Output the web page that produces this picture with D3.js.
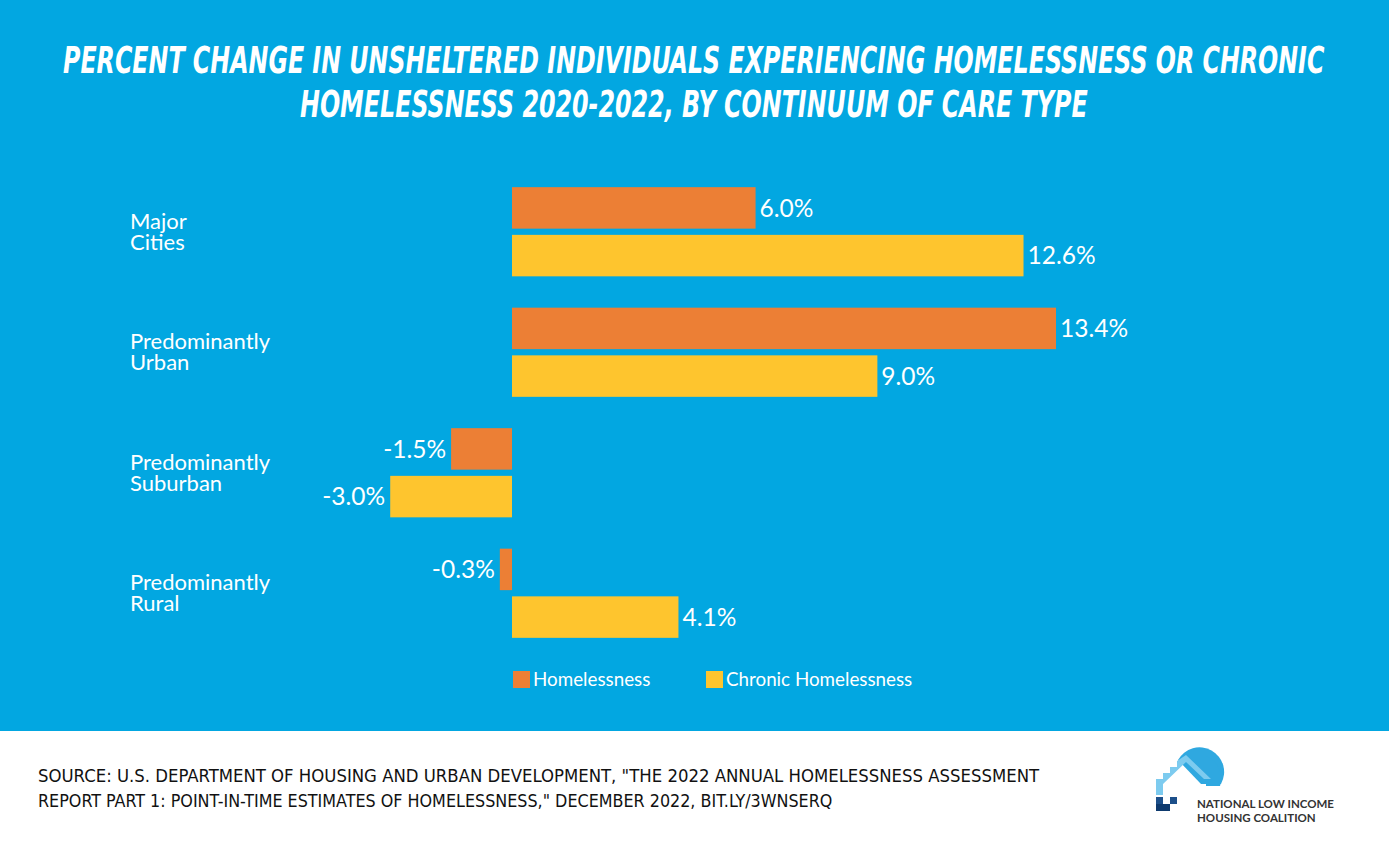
<!DOCTYPE html>
<html>
<head>
<meta charset="utf-8">
<script src="https://cdn.jsdelivr.net/npm/d3@7"></script>
<style>
  html, body { margin: 0; padding: 0; background: #ffffff; }
  svg { display: block; }
</style>
</head>
<body>
<svg id="chart" width="1389" height="854"></svg>
<script>
// ---- data ----
const categories = [["Major", "Cities"], ["Predominantly", "Urban"], ["Predominantly", "Suburban"], ["Predominantly", "Rural"]];
const categoryKeys = ["Major Cities", "Predominantly Urban", "Predominantly Suburban", "Predominantly Rural"];
const seriesNames = ["Homelessness", "Chronic Homelessness"];
const homelessness = [6.0, 13.4, -1.5, -0.3];
const chronicHomelessness = [12.6, 9.0, -3.0, 4.1];
const titleLines = ["PERCENT CHANGE IN UNSHELTERED INDIVIDUALS EXPERIENCING HOMELESSNESS OR CHRONIC",
                    "HOMELESSNESS 2020-2022, BY CONTINUUM OF CARE TYPE"];
const sourceLines = ["SOURCE: U.S. DEPARTMENT OF HOUSING AND URBAN DEVELOPMENT, \"THE 2022 ANNUAL HOMELESSNESS ASSESSMENT",
                     "REPORT PART 1: POINT-IN-TIME ESTIMATES OF HOMELESSNESS,\" DECEMBER 2022, BIT.LY/3WNSERQ"];
const logoLines = ["NATIONAL LOW INCOME", "HOUSING COALITION"];

const colors = { "Homelessness": "#EC7F35", "Chronic Homelessness": "#FEC52E" };
const bgBlue = "#02A7E1";

const svg = d3.select("#chart");

// background
svg.append("rect").attr("x", 0).attr("y", 0).attr("width", 1389).attr("height", 731).attr("fill", bgBlue);
svg.append("rect").attr("x", 0).attr("y", 731).attr("width", 1389).attr("height", 123).attr("fill", "#ffffff");

// helper: draw text squeezed horizontally to a target width
function fitText(sel, x, y, width, str, attrs) {
  const g = sel.append("g");
  const t = g.append("text").attr("x", 0).attr("y", 0).text(str);
  Object.entries(attrs).forEach(([k, v]) => t.attr(k, v));
  const w = t.node().getComputedTextLength();
  const sx = width / w;
  g.attr("transform", `translate(${x},${y}) scale(${sx},1)`);
  return g;
}

// title
const titleX = [[63, 1262], [300, 788]];
const titleY = [73, 117];
titleLines.forEach((t, i) => {
  fitText(svg, titleX[i][0], titleY[i], titleX[i][1], t, {
    "font-family": "'DejaVu Sans Condensed', 'DejaVu Sans', sans-serif",
    "font-weight": "bold", "font-style": "italic", "font-size": 37, "fill": "#ffffff"
  });
});

// scales
const data = categoryKeys.map((k, i) => ({ key: k, lines: categories[i], values: [
  { series: seriesNames[0], value: homelessness[i] },
  { series: seriesNames[1], value: chronicHomelessness[i] }
]}));

const x = d3.scaleLinear().domain([0, 13.4]).range([512, 1056]);
const y0 = d3.scaleBand().domain(categoryKeys).range([171.5, 653.5]).paddingInner(0.26).paddingOuter(0.13);
const y1 = d3.scaleBand().domain(seriesNames).range([0, y0.bandwidth()]).paddingInner(0.13);

const groups = svg.append("g").selectAll("g").data(data).join("g")
  .attr("transform", d => `translate(0,${y0(d.key)})`);

groups.selectAll("rect").data(d => d.values).join("rect")
  .attr("x", d => x(Math.min(0, d.value)))
  .attr("width", d => Math.abs(x(d.value) - x(0)))
  .attr("y", d => y1(d.series))
  .attr("height", y1.bandwidth())
  .attr("fill", d => colors[d.series]);

const fmt = v => d3.format(".1f")(v).replace("\u2212", "-") + "%";

groups.selectAll("text.val").data(d => d.values).join("text")
  .attr("class", "val")
  .attr("x", d => d.value >= 0 ? x(d.value) + 4 : x(d.value) - 5)
  .attr("y", d => y1(d.series) + y1.bandwidth() / 2)
  .attr("dy", "0.36em")
  .attr("text-anchor", d => d.value >= 0 ? "start" : "end")
  .attr("font-family", "Lato, 'Noto Sans', sans-serif")
  .attr("font-size", 24.5).attr("fill", "#ffffff")
  .text(d => fmt(d.value));

// category labels
groups.each(function(d) {
  const g = d3.select(this);
  const c = y0.bandwidth() / 2;
  d.lines.forEach((l, j) => {
    g.append("text")
      .attr("x", 130).attr("y", c - 3 + j * 21)
      .attr("font-family", "Lato, 'Noto Sans', sans-serif")
      .attr("font-size", 22).attr("fill", "#ffffff")
      .text(l);
  });
});

// legend
const legend = svg.append("g");
const legendX = [513, 706];
seriesNames.forEach((s, i) => {
  legend.append("rect").attr("x", legendX[i]).attr("y", 671).attr("width", 17).attr("height", 17).attr("fill", colors[s]);
  legend.append("text").attr("x", legendX[i] + 20).attr("y", 686)
    .attr("font-family", "Lato, 'Noto Sans', sans-serif")
    .attr("font-size", 18.8).attr("fill", "#ffffff").text(s);
});

// source
const srcW = [1002, 795];
sourceLines.forEach((t, i) => {
  fitText(svg, 38, 782 + i * 25, srcW[i], t, {
    "font-family": "'DejaVu Sans Condensed', 'DejaVu Sans', sans-serif",
    "font-size": 17, "fill": "#111111"
  });
});

// logo
const logo = svg.append("g");
logo.append("path").attr("d", "M1178,760 A22,22 0 0 1 1221,784 L1201,784 Z").attr("fill", "#2FA8E0");
logo.append("path")
  .attr("d", "M1206,756 A24,24 0 0 1 1220,786 L1206,786 Z").attr("fill", "#2FA8E0");
logo.append("path")
  .attr("d", "M1156,795 L1156,779 L1163,779 L1163,773 L1170,773 L1170,767 L1177,767 L1177,761 L1186,755 L1211,779 L1204,779 L1186,762 L1163,784 L1163,795 Z")
  .attr("fill", "#7DCBEF");
[[1156,797,"#1C4F8A"],[1163,804,"#0E3A6E"],[1170,797,"#1C4F8A"],[1156,804,"#0E3A6E"]].forEach(s => {
  logo.append("rect").attr("x", s[0]).attr("y", s[1]).attr("width", 7).attr("height", 7).attr("fill", s[2]);
});
logoLines.forEach((t, i) => {
  logo.append("text").attr("x", 1197).attr("y", 808 + i * 14)
    .attr("font-family", "Lato, 'Noto Sans', sans-serif").attr("font-weight", "bold")
    .attr("font-size", 11.5).attr("fill", "#333333").text(t);
});
</script>
</body>
</html>
